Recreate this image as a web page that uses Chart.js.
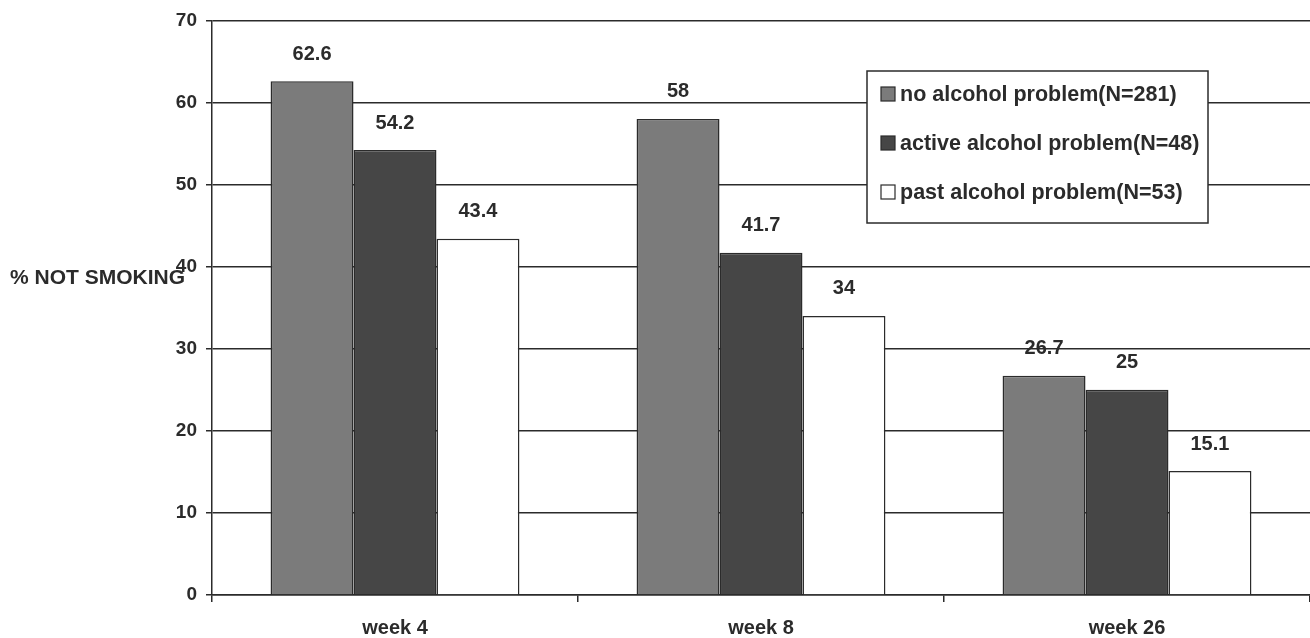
<!DOCTYPE html>
<html>
<head>
<meta charset="utf-8">
<script src="https://cdn.jsdelivr.net/npm/chart.js@4.4.0/dist/chart.umd.min.js"></script>
<style>
html,body{margin:0;padding:0;background:#fff;}
#wrap{width:1310px;height:638px;}
</style>
</head>
<body>
<div id="wrap"><canvas id="c" width="1310" height="638"></canvas></div>
<script>
const categories = ["week 4", "week 8", "week 26"];
const seriesNames = ["no alcohol problem(N=281)", "active alcohol problem(N=48)", "past alcohol problem(N=53)"];
const noAlcohol = [62.6, 58, 26.7];
const activeAlcohol = [54.2, 41.7, 25];
const pastAlcohol = [43.4, 34, 15.1];
const yTicks = [0, 10, 20, 30, 40, 50, 60, 70];
const yTitle = "% NOT SMOKING";

const fills = ["#7b7b7b", "#464646", "#ffffff"];
const FONT = "'Liberation Sans', Arial, sans-serif";
const INK = "#2b2b2b";

const valueLabels = {
  id: 'valueLabels',
  afterDatasetsDraw(chart) {
    const ctx = chart.ctx;
    ctx.save();
    ctx.font = "bold 20px " + FONT;
    ctx.fillStyle = INK;
    ctx.textAlign = 'center';
    ctx.textBaseline = 'middle';
    chart.data.datasets.forEach((ds, i) => {
      chart.getDatasetMeta(i).data.forEach((bar, j) => {
        ctx.fillText(String(ds.data[j]), bar.x, bar.y - 27);
      });
    });
    ctx.restore();
  }
};

const boxLegend = {
  id: 'boxLegend',
  afterDatasetsDraw(chart) {
    const ctx = chart.ctx;
    ctx.save();
    const x0 = 867, y0 = 71, w = 341, h = 152;
    ctx.fillStyle = '#fff';
    ctx.fillRect(x0, y0, w, h);
    ctx.strokeStyle = INK;
    ctx.lineWidth = 1.5;
    ctx.strokeRect(x0, y0, w, h);
    ctx.font = "bold 21.5px " + FONT;
    ctx.textBaseline = 'middle';
    ctx.textAlign = 'left';
    chart.data.datasets.forEach((ds, i) => {
      const cy = 94 + i * 49;
      ctx.fillStyle = fills[i];
      ctx.fillRect(881, cy - 7, 14, 14);
      ctx.strokeStyle = INK;
      ctx.lineWidth = 1.2;
      ctx.strokeRect(881, cy - 7, 14, 14);
      ctx.fillStyle = INK;
      ctx.fillText(ds.label, 900, cy + 1);
    });
    ctx.restore();
  }
};

const yTitlePlugin = {
  id: 'yTitlePlugin',
  afterDraw(chart) {
    const ctx = chart.ctx;
    ctx.save();
    ctx.font = "bold 21px " + FONT;
    ctx.fillStyle = INK;
    ctx.textAlign = 'left';
    ctx.textBaseline = 'middle';
    ctx.fillText(yTitle, 10, 278);
    ctx.restore();
  }
};

new Chart(document.getElementById('c'), {
  type: 'bar',
  data: {
    labels: categories,
    datasets: [
      { label: seriesNames[0], data: noAlcohol, backgroundColor: fills[0] },
      { label: seriesNames[1], data: activeAlcohol, backgroundColor: fills[1] },
      { label: seriesNames[2], data: pastAlcohol, backgroundColor: fills[2] }
    ].map(d => Object.assign(d, { borderColor: INK, borderWidth: 1.5, categoryPercentage: 0.68, barPercentage: 1.0 }))
  },
  options: {
    responsive: false,
    animation: false,
    layout: { padding: { left: 0, right: 0, top: 20, bottom: 0 } },
    plugins: { legend: { display: false }, tooltip: { enabled: false } },
    scales: {
      x: {
        afterFit(s) { s.height = 43; },
        grid: { drawOnChartArea: false, drawTicks: true, tickLength: 7, color: INK, lineWidth: 1.5, offset: true },
        border: { display: true, color: INK, width: 1.5 },
        ticks: { color: INK, font: { family: FONT, size: 20, weight: 'bold' }, padding: 14 }
      },
      y: {
        min: 0, max: 70,
        afterFit(s) { s.width = 212; },
        afterBuildTicks(s) { s.ticks = yTicks.map(v => ({ value: v })); },
        grid: { color: INK, lineWidth: 1.5, drawTicks: true, tickLength: 6 },
        border: { display: true, color: INK, width: 1.5 },
        ticks: { color: INK, font: { family: FONT, size: 19, weight: 'bold' }, padding: 9 }
      }
    }
  },
  plugins: [valueLabels, boxLegend, yTitlePlugin]
});
</script>
</body>
</html>
